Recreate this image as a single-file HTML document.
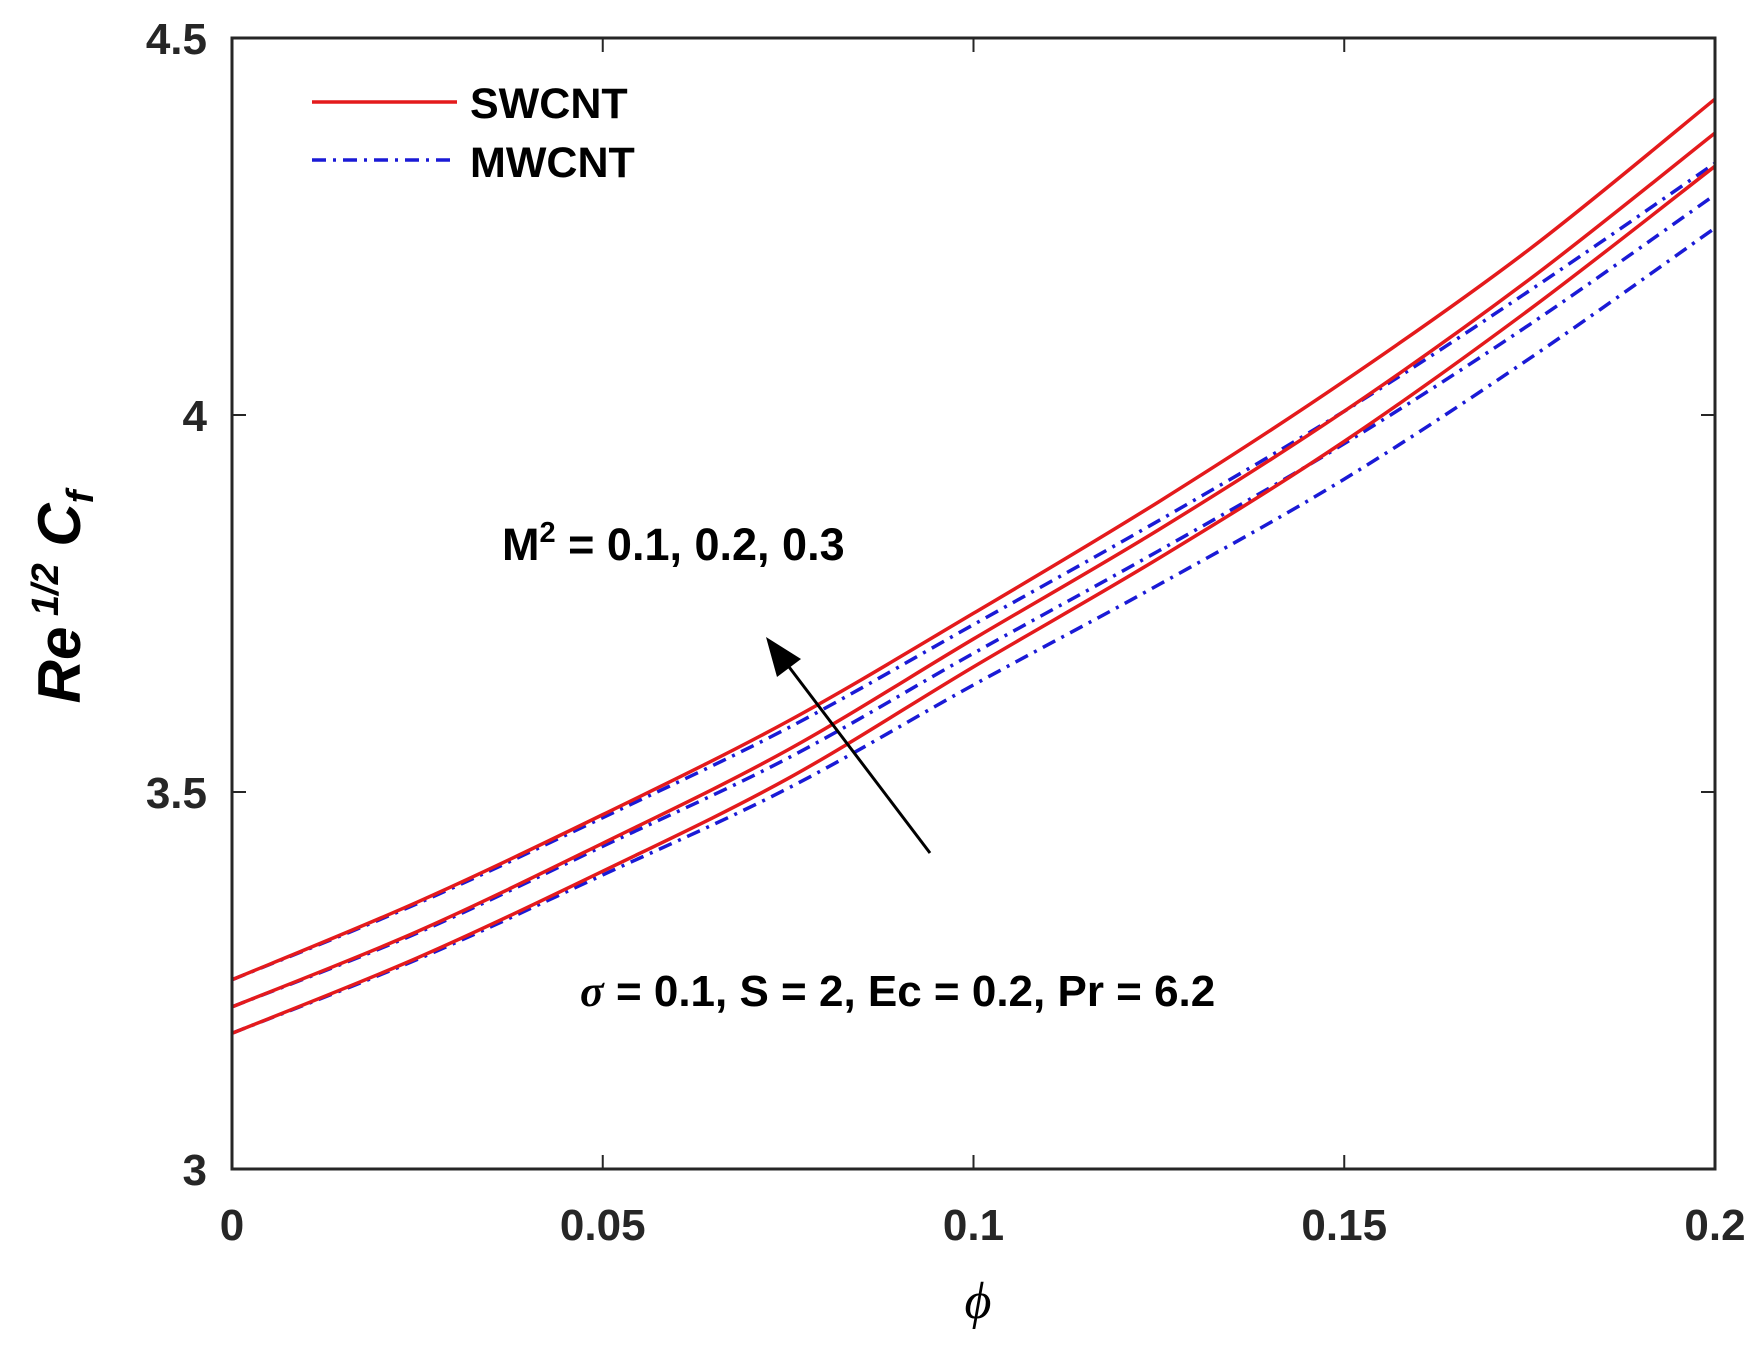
<!DOCTYPE html>
<html><head><meta charset="utf-8">
<style>
html,body{margin:0;padding:0;background:#fff;}
svg{display:block;font-family:"Liberation Sans",Arial,sans-serif;}
</style></head>
<body>
<svg id="chart" width="1764" height="1346" viewBox="0 0 1764 1346" xmlns="http://www.w3.org/2000/svg">
<rect width="1764" height="1346" fill="#fff"/>
<g id="series"></g>
<rect x="232" y="38" width="1483" height="1131" fill="none" stroke="#262626" stroke-width="3"/>
<g id="ticks"></g>
<g>
  <line x1="312" y1="102" x2="457" y2="102" stroke="#e41a1c" stroke-width="3.5"/>
  <text x="470" y="118" font-size="43" font-weight="bold" fill="#000">SWCNT</text>
  <line x1="312" y1="160" x2="457" y2="160" stroke="#1a1ad6" stroke-width="3.5" stroke-dasharray="14 7 3 7"/>
  <text x="470" y="177" font-size="43" font-weight="bold" fill="#000">MWCNT</text>
</g>
<text x="502" y="560" font-size="45" font-weight="bold" fill="#000">M<tspan dy="-18" font-size="29">2</tspan><tspan dy="18"> = 0.1, 0.2, 0.3</tspan></text>
<g>
  <line x1="930" y1="853" x2="780" y2="655" stroke="#000" stroke-width="3"/>
  <polygon points="766,637 801,659 777,677" fill="#000"/>
</g>
<text x="580" y="1006" font-size="44" font-weight="bold" fill="#000"><tspan font-style="italic" font-family="Liberation Serif,serif">σ</tspan> = 0.1, S = 2, Ec = 0.2, Pr = 6.2</text>
<text transform="translate(80,597) rotate(-90)" text-anchor="middle" font-size="60" font-weight="bold" font-style="italic" fill="#000">Re<tspan dy="-22" font-size="38"> 1/2</tspan><tspan dy="22"> C</tspan><tspan dy="13" font-size="38">f</tspan></text>
<text x="978" y="1318" text-anchor="middle" font-size="52" font-style="italic" font-family="Liberation Serif,serif" fill="#000">ϕ</text>
</svg>
<script>
const xTicks = [0, 0.05, 0.1, 0.15, 0.2];
const xTickLabels = ["0", "0.05", "0.1", "0.15", "0.2"];
const yTicks = [3, 3.5, 4, 4.5];
const yTickLabels = ["3", "3.5", "4", "4.5"];
const phi = [0, 0.025, 0.05, 0.075, 0.1, 0.125, 0.15, 0.175, 0.2];
const swM1 = [3.180, 3.280, 3.395, 3.518, 3.666, 3.810, 3.965, 4.140, 4.330];
const swM2 = [3.215, 3.315, 3.432, 3.556, 3.703, 3.848, 4.005, 4.180, 4.374];
const swM3 = [3.251, 3.354, 3.470, 3.594, 3.737, 3.885, 4.045, 4.220, 4.419];
const mwM1 = [3.180, 3.278, 3.390, 3.505, 3.642, 3.775, 3.915, 4.075, 4.248];
const mwM2 = [3.215, 3.313, 3.428, 3.545, 3.684, 3.820, 3.962, 4.120, 4.292];
const mwM3 = [3.251, 3.352, 3.466, 3.585, 3.722, 3.860, 4.005, 4.165, 4.334];

const X0 = 232, X1 = 1715, Y0 = 1169, Y1 = 38;
function xs(v){ return X0 + (v - 0) / (0.2 - 0) * (X1 - X0); }
function ys(v){ return Y0 - (v - 3) / (4.5 - 3) * (Y0 - Y1); }
const NS = "http://www.w3.org/2000/svg";

function pathFor(vals){
  const p = phi.map((x,i)=>[xs(x), ys(vals[i])]);
  let d = "M" + p[0][0] + "," + p[0][1];
  for(let i=0;i<p.length-1;i++){
    const a = p[Math.max(i-1,0)], b = p[i], c = p[i+1], e = p[Math.min(i+2,p.length-1)];
    const c1x = b[0] + (c[0]-a[0])/6, c1y = b[1] + (c[1]-a[1])/6;
    const c2x = c[0] - (e[0]-b[0])/6, c2y = c[1] - (e[1]-b[1])/6;
    d += " C" + c1x + "," + c1y + " " + c2x + "," + c2y + " " + c[0] + "," + c[1];
  }
  return d;
}
const g = document.getElementById("series");
const series = [
  ["mwcnt-m-0.1", mwM1, "#1a1ad6", true],
  ["mwcnt-m-0.2", mwM2, "#1a1ad6", true],
  ["mwcnt-m-0.3", mwM3, "#1a1ad6", true],
  ["swcnt-m-0.1", swM1, "#e41a1c", false],
  ["swcnt-m-0.2", swM2, "#e41a1c", false],
  ["swcnt-m-0.3", swM3, "#e41a1c", false]
];
series.forEach(s=>{
  const el = document.createElementNS(NS, "path");
  
  
  el.setAttribute("d", pathFor(s[1]));
  el.setAttribute("fill", "none");
  el.setAttribute("stroke", s[2]);
  el.setAttribute("stroke-width", "3.5");
  if (s[3]) el.setAttribute("stroke-dasharray", "14 7 3 7");
  g.appendChild(el);
});
const t = document.getElementById("ticks");
xTicks.forEach((v,i)=>{
  const x = xs(v);
  const a = document.createElementNS(NS, "line");
  
  
  a.setAttribute("x1", x); a.setAttribute("x2", x);
  a.setAttribute("y1", Y0); a.setAttribute("y2", Y0 - 14);
  a.setAttribute("stroke", "#262626"); a.setAttribute("stroke-width", "2");
  t.appendChild(a);
  const b = document.createElementNS(NS, "line");
  
  
  b.setAttribute("x1", x); b.setAttribute("x2", x);
  b.setAttribute("y1", Y1); b.setAttribute("y2", Y1 + 14);
  b.setAttribute("stroke", "#262626"); b.setAttribute("stroke-width", "2");
  t.appendChild(b);
  const tx = document.createElementNS(NS, "text");
  
  
  tx.setAttribute("x", x); tx.setAttribute("y", 1240);
  tx.setAttribute("text-anchor", "middle");
  tx.setAttribute("font-size", "44"); tx.setAttribute("font-weight", "bold");
  tx.setAttribute("fill", "#262626");
  tx.textContent = xTickLabels[i];
  t.appendChild(tx);
});
yTicks.forEach((v,i)=>{
  const y = ys(v);
  const a = document.createElementNS(NS, "line");
  
  
  a.setAttribute("x1", X0); a.setAttribute("x2", X0 + 14);
  a.setAttribute("y1", y); a.setAttribute("y2", y);
  a.setAttribute("stroke", "#262626"); a.setAttribute("stroke-width", "2");
  t.appendChild(a);
  const b = document.createElementNS(NS, "line");
  
  
  b.setAttribute("x1", X1); b.setAttribute("x2", X1 - 14);
  b.setAttribute("y1", y); b.setAttribute("y2", y);
  b.setAttribute("stroke", "#262626"); b.setAttribute("stroke-width", "2");
  t.appendChild(b);
  const tx = document.createElementNS(NS, "text");
  
  
  tx.setAttribute("x", 207); tx.setAttribute("y", y + 16);
  tx.setAttribute("text-anchor", "end");
  tx.setAttribute("font-size", "44"); tx.setAttribute("font-weight", "bold");
  tx.setAttribute("fill", "#262626");
  tx.textContent = yTickLabels[i];
  t.appendChild(tx);
});
</script>
</body></html>
